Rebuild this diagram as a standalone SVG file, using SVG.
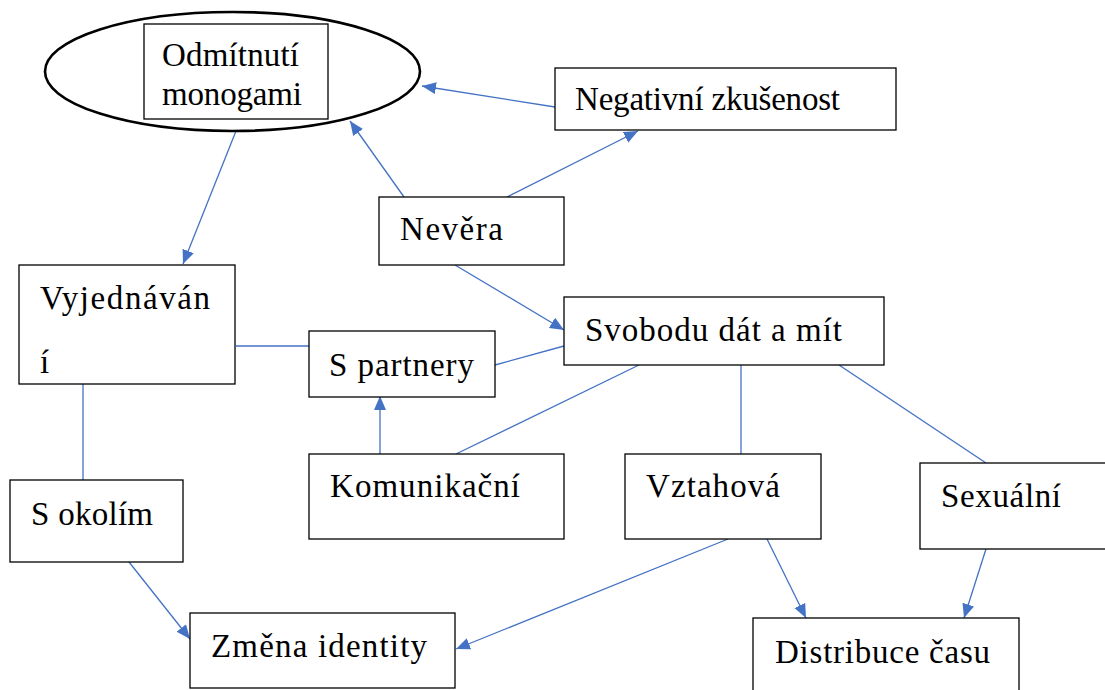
<svg xmlns="http://www.w3.org/2000/svg" width="1105" height="690" viewBox="0 0 1105 690">
<style>
.box{fill:#fff;stroke:#000;stroke-width:1.3}
.t{font-family:"Liberation Serif","Times New Roman",serif;font-size:33px;fill:#000}
.c{stroke:#4472C4;stroke-width:1.3;fill:none}
</style>
<defs>
<marker id="ah" markerUnits="userSpaceOnUse" markerWidth="16" markerHeight="13" refX="14" refY="6" orient="auto">
<path d="M0,0 L14,6 L0,12 z" fill="#4472C4"/>
</marker>
</defs>
<rect width="1105" height="690" fill="#fff"/>
<g id="connectors">
<line class="c" x1="236" y1="131" x2="183" y2="264" marker-end="url(#ah)"/>
<line class="c" x1="404" y1="197" x2="350" y2="121" marker-end="url(#ah)"/>
<line class="c" x1="555" y1="107" x2="422" y2="86" marker-end="url(#ah)"/>
<line class="c" x1="507" y1="197" x2="638" y2="131" marker-end="url(#ah)"/>
<line class="c" x1="455" y1="265" x2="564" y2="330" marker-end="url(#ah)"/>
<line class="c" x1="236" y1="346" x2="309" y2="346"/>
<line class="c" x1="495" y1="365" x2="564" y2="346"/>
<line class="c" x1="380" y1="454" x2="380" y2="396" marker-end="url(#ah)"/>
<line class="c" x1="456" y1="454" x2="639" y2="365"/>
<line class="c" x1="83" y1="384" x2="83" y2="480"/>
<line class="c" x1="129" y1="562" x2="190" y2="639" marker-end="url(#ah)"/>
<line class="c" x1="728" y1="539" x2="456" y2="649" marker-end="url(#ah)"/>
<line class="c" x1="741" y1="365" x2="741" y2="454"/>
<line class="c" x1="839" y1="365" x2="986" y2="463"/>
<line class="c" x1="767" y1="539" x2="806" y2="618" marker-end="url(#ah)"/>
<line class="c" x1="986" y1="549" x2="964" y2="618" marker-end="url(#ah)"/>
</g>
<g id="odmitnuti">
<ellipse cx="232.5" cy="71.5" rx="187.5" ry="59.5" fill="#fff" stroke="#000" stroke-width="2.6"/>
<rect class="box" x="144" y="24" width="184" height="95"/>
<text class="t" x="162" y="66" textLength="137">Odmítnutí</text>
<text class="t" x="162" y="105" textLength="140">monogami</text>
</g>
<g id="negativni">
<rect class="box" x="555" y="68" width="341" height="62"/>
<text class="t" x="575" y="110" textLength="265">Negativní zkušenost</text>
</g>
<g id="nevera">
<rect class="box" x="379" y="197" width="185" height="68"/>
<text class="t" x="400" y="240" textLength="103">Nevěra</text>
</g>
<g id="vyjednavani">
<rect class="box" x="19" y="265" width="216" height="119"/>
<text class="t" x="40" y="309" textLength="170">Vyjednáván</text>
<text class="t" x="40" y="373">í</text>
</g>
<g id="spartnery">
<rect class="box" x="309" y="331" width="186" height="66"/>
<text class="t" x="329" y="376" textLength="145">S partnery</text>
</g>
<g id="svobodu">
<rect class="box" x="564" y="297" width="320" height="68"/>
<text class="t" x="585" y="341" textLength="257">Svobodu dát a mít</text>
</g>
<g id="komunikacni">
<rect class="box" x="309" y="454" width="255" height="85"/>
<text class="t" x="330" y="497" textLength="190">Komunikační</text>
</g>
<g id="vztahova">
<rect class="box" x="625" y="454" width="196" height="85"/>
<text class="t" x="646" y="497" textLength="134">Vztahová</text>
</g>
<g id="sexualni">
<rect class="box" x="920" y="463" width="200" height="86"/>
<text class="t" x="941" y="507" textLength="120">Sexuální</text>
</g>
<g id="sokolim">
<rect class="box" x="10" y="480" width="173" height="82"/>
<text class="t" x="31" y="525" textLength="122">S okolím</text>
</g>
<g id="zmena">
<rect class="box" x="190" y="613" width="265" height="75"/>
<text class="t" x="211" y="657" textLength="216">Změna identity</text>
</g>
<g id="distribuce">
<rect class="box" x="753" y="618" width="266" height="90"/>
<text class="t" x="775" y="663" textLength="215">Distribuce času</text>
</g>
</svg>
